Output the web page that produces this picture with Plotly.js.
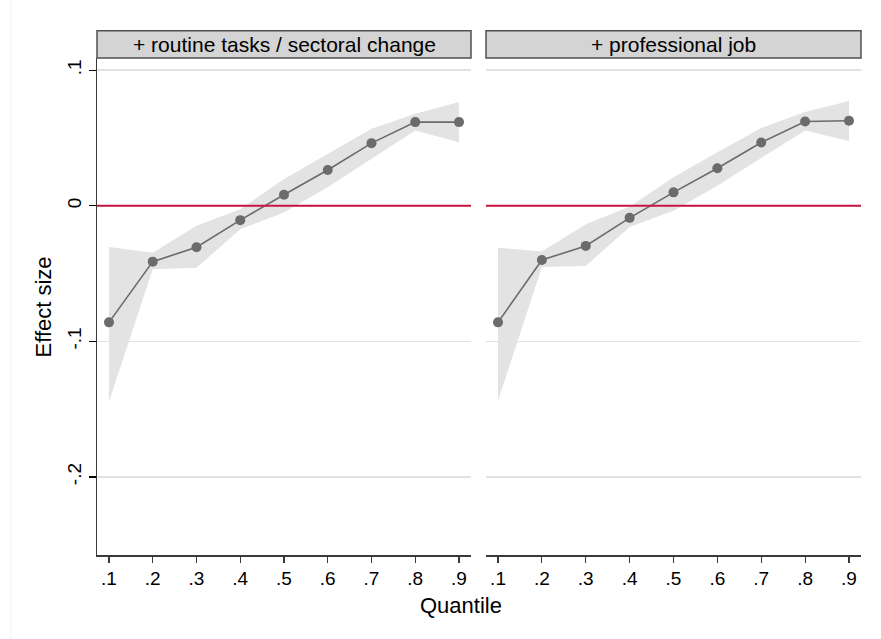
<!DOCTYPE html>
<html>
<head>
<meta charset="utf-8">
<script src="https://cdn.plot.ly/plotly-3.0.1.min.js"></script>
<style>html,body{margin:0;padding:0;background:#fff;}#chart{width:881px;height:639px;}</style>
</head>
<body>
<div id="chart"></div>
<script>
// ---- data ----
var quantiles = [0.1, 0.2, 0.3, 0.4, 0.5, 0.6, 0.7, 0.8, 0.9];
var xTickLabels = [".1", ".2", ".3", ".4", ".5", ".6", ".7", ".8", ".9"];
var yTickVals = [0.1, 0, -0.1, -0.2];
var yTickLabels = [".1", "0", "-.1", "-.2"];
var panelTitles = ["+ routine tasks / sectoral change", "+ professional job"];

var routineEst = [-0.086, -0.0412, -0.0306, -0.0106, 0.0081, 0.0264, 0.0462, 0.0617, 0.0617];
var routineLo  = [-0.1443, -0.0469, -0.0457, -0.0173, -0.0049, 0.0136, 0.0346, 0.0556, 0.0469];
var routineHi  = [-0.0304, -0.0346, -0.0148, -0.0025, 0.0198, 0.0383, 0.0568, 0.0679, 0.0765];

var profEst = [-0.086, -0.0400, -0.0296, -0.0089, 0.0099, 0.0277, 0.0467, 0.0622, 0.0627];
var profLo  = [-0.1440, -0.0452, -0.0444, -0.0156, -0.0037, 0.0148, 0.0350, 0.0556, 0.0477];
var profHi  = [-0.0309, -0.0338, -0.0136, -0.0007, 0.0210, 0.0395, 0.0573, 0.0691, 0.0773];

// ---- styling ----
var FONT = "Liberation Sans, Arial, Helvetica, sans-serif";
var bandColor = "#e3e3e3";
var lineColor = "#6b6b6b";
var zeroColor = "#c8163f";
var gridColor = "#e2e2e2";
var axisColor = "#3a3a3a";

function band(lo, hi, xa, ya) {
  var xs = quantiles.concat(quantiles.slice().reverse());
  var ys = hi.concat(lo.slice().reverse());
  return {x: xs, y: ys, xaxis: xa, yaxis: ya, type: "scatter", mode: "lines",
          fill: "toself", fillcolor: bandColor, line: {width: 0, color: bandColor},
          hoverinfo: "skip", showlegend: false};
}
function est(vals, xa, ya) {
  return {x: quantiles, y: vals, xaxis: xa, yaxis: ya, type: "scatter", mode: "lines+markers",
          line: {color: lineColor, width: 1.6}, marker: {color: lineColor, size: 10},
          showlegend: false};
}

var data = [
  band(routineLo, routineHi, "x", "y"),
  est(routineEst, "x", "y"),
  band(profLo, profHi, "x2", "y2"),
  est(profEst, "x2", "y2")
];

var xRange = [0.0726, 0.9274];
var yRange = [-0.2576, 0.109];

function xaxisDef(domain) {
  return {domain: domain, range: xRange, tickvals: quantiles, ticktext: xTickLabels,
          showline: true, linecolor: axisColor, linewidth: 1.5, ticks: "outside",
          ticklen: 6, tickwidth: 1.2, tickcolor: axisColor, showgrid: false, zeroline: false,
          tickfont: {family: FONT, size: 19, color: "#000"}, fixedrange: true};
}

var plotL = 97, plotR = 861, plotT = 58, plotB = 555;
var W = 881, H = 639;
var pw = plotR - plotL, ph = plotB - plotT;
var dom1 = [0, (471 - plotL) / pw];
var dom2 = [(486 - plotL) / pw, 1];
var stripH = 27.3 / ph;

var layout = {
  width: W, height: H,
  margin: {l: plotL, r: W - plotR, t: plotT, b: H - plotB, pad: 0},
  paper_bgcolor: "#ffffff", plot_bgcolor: "#ffffff",
  font: {family: FONT, color: "#000"},
  showlegend: false,
  xaxis: xaxisDef(dom1),
  xaxis2: Object.assign(xaxisDef(dom2), {anchor: "y2"}),
  yaxis: {domain: [0, 1], range: yRange, tickvals: yTickVals, ticktext: yTickLabels,
          tickangle: -90, showline: true, linecolor: axisColor, linewidth: 1.5,
          ticks: "outside", ticklen: 7, tickwidth: 1.2, tickcolor: "#000",
          showgrid: true, gridcolor: gridColor, gridwidth: 1.5, zeroline: false,
          tickfont: {family: FONT, size: 19, color: "#000"}, fixedrange: true},
  yaxis2: {domain: [0, 1], anchor: "x2", range: yRange, tickvals: yTickVals,
           showticklabels: false, showline: false, ticks: "",
           showgrid: true, gridcolor: gridColor, gridwidth: 1.5, zeroline: false, fixedrange: true},
  shapes: [
    {type: "line", xref: "x domain", yref: "y", x0: 0, x1: 1, y0: 0, y1: 0,
     line: {color: zeroColor, width: 1.8}, layer: "above"},
    {type: "line", xref: "x2 domain", yref: "y2", x0: 0, x1: 1, y0: 0, y1: 0,
     line: {color: zeroColor, width: 1.8}, layer: "above"},
    {type: "rect", xref: "x domain", yref: "paper", x0: 0, x1: 1, y0: 1, y1: 1 + stripH,
     fillcolor: "#d4d4d4", line: {color: "#505050", width: 1.5}, layer: "above"},
    {type: "rect", xref: "x2 domain", yref: "paper", x0: 0, x1: 1, y0: 1, y1: 1 + stripH,
     fillcolor: "#d4d4d4", line: {color: "#505050", width: 1.5}, layer: "above"},
    {type: "line", xref: "paper", yref: "paper", x0: (11 - plotL) / pw, x1: (11 - plotL) / pw,
     y0: (plotB - H) / ph, y1: plotB / ph, line: {color: "#f3f3f3", width: 1}}
  ],
  annotations: [
    {text: panelTitles[0], xref: "x domain", yref: "paper", x: 0.5, y: 1 + stripH / 2,
     xanchor: "center", yanchor: "middle", showarrow: false,
     font: {family: FONT, size: 21, color: "#000"}},
    {text: panelTitles[1], xref: "x2 domain", yref: "paper", x: 0.5, y: 1 + stripH / 2,
     xanchor: "center", yanchor: "middle", showarrow: false,
     font: {family: FONT, size: 21, color: "#000"}},
    {text: "Effect size", xref: "paper", yref: "paper", x: (43 - plotL) / pw, y: 0.5,
     textangle: -90, xanchor: "center", yanchor: "middle", showarrow: false,
     font: {family: FONT, size: 22, color: "#000"}},
    {text: "Quantile", xref: "paper", yref: "paper", x: (461 - plotL) / pw, y: (plotB - 605) / ph,
     xanchor: "center", yanchor: "middle", showarrow: false,
     font: {family: FONT, size: 22, color: "#000"}}
  ]
};

Plotly.newPlot("chart", data, layout, {staticPlot: true, displayModeBar: false});
</script>
</body>
</html>
